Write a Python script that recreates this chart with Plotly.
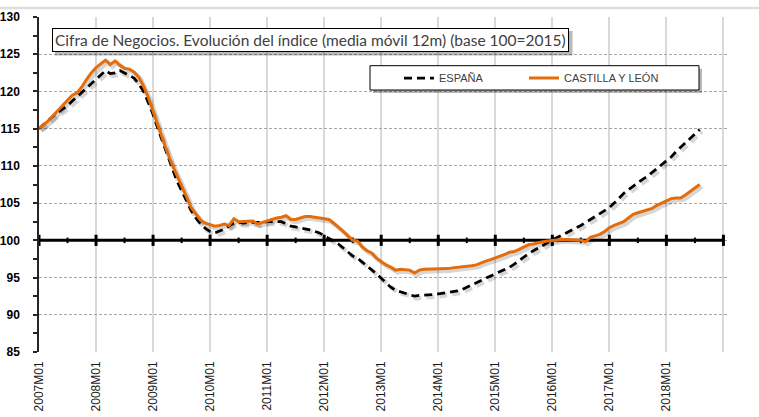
import plotly.graph_objects as go

# ---- categories (monthly, 2007M01 .. 2019M01 on the axis) ----
months = [f"{y}M{m:02d}" for y in range(2007, 2020) for m in range(1, 13)][:145]

# ---- series values (12-month moving average index, base 100 = 2015) ----
espana = [
    115.0, 115.6, 116.2, 116.7, 117.2, 117.6, 118.1, 118.7, 119.3, 119.9, 120.5, 121.1,
    121.7, 122.3, 122.8, 122.4, 122.5, 122.8, 122.5, 122.2, 121.8, 121.0, 120.0, 118.5,
    116.9, 115.0, 113.2, 111.4, 109.6, 108.0, 106.7, 105.3, 104.0, 103.0, 102.2, 101.6,
    101.2, 101.0, 101.2, 101.5, 101.9, 102.3, 102.4, 102.3, 102.4, 102.4, 102.3, 102.4,
    102.5, 102.5, 102.6, 102.5, 102.2, 101.9, 101.8, 101.7, 101.5, 101.4, 101.2, 101.0,
    100.6, 100.3, 99.9, 99.5, 99.0, 98.4, 97.9, 97.6, 97.1, 96.6, 96.0, 95.5,
    94.9, 94.3, 93.7, 93.3, 93.1, 93.0, 92.8, 92.5, 92.6, 92.6, 92.7, 92.7,
    92.8, 92.9, 92.9, 93.0, 93.2, 93.4, 93.7, 94.0, 94.3, 94.6, 94.9, 95.2,
    95.4, 95.7, 96.0, 96.4, 96.8, 97.3, 97.8, 98.2, 98.6, 98.9, 99.3, 99.7,
    100.1, 100.4, 100.7, 101.0, 101.3, 101.7, 102.0, 102.4, 102.8, 103.2, 103.5, 103.9,
    104.4, 105.0, 105.7, 106.3, 106.8, 107.3, 107.7, 108.2, 108.6, 109.1, 109.6, 110.1,
    110.6, 111.2, 111.9, 112.5, 113.1, 113.7, 114.3, 114.9,
]
castilla_leon = [
    115.1, 115.5, 116.1, 116.8, 117.5, 118.1, 118.9, 119.5, 119.8, 120.6, 121.6, 122.5,
    123.2, 123.7, 124.2, 123.6, 124.1, 123.5, 123.1, 123.0, 122.6, 121.9, 120.7, 119.2,
    117.3, 115.3, 113.5, 111.8, 110.2, 108.8, 107.5, 105.9, 104.4, 103.5, 102.7, 102.3,
    102.1, 101.9, 102.0, 102.2, 102.0, 102.9, 102.5, 102.5, 102.6, 102.6, 102.2, 102.4,
    102.7, 102.8, 103.0, 103.1, 103.3, 102.8, 102.8, 103.0, 103.2, 103.2, 103.1, 103.0,
    102.8, 102.8, 102.3, 101.8, 101.2, 100.6, 100.0, 99.9, 99.1, 98.6, 98.3, 97.6,
    97.1, 96.7, 96.4, 96.0, 96.1, 96.1, 96.0, 95.6, 96.0, 96.1, 96.1, 96.1,
    96.1, 96.2, 96.2, 96.3, 96.4, 96.5, 96.6, 96.6, 96.7, 97.0, 97.2, 97.4,
    97.6, 97.9, 98.1, 98.4, 98.5, 98.8, 99.1, 99.4, 99.5, 99.7, 99.8, 99.9,
    100.0, 100.1, 100.1, 100.1, 100.1, 100.0, 100.0, 99.8, 100.4, 100.6, 100.8, 101.2,
    101.7, 102.0, 102.2, 102.5, 103.0, 103.5, 103.7, 103.9, 104.1, 104.3, 104.7, 105.0,
    105.3, 105.6, 105.7, 105.7, 106.1, 106.6, 107.1, 107.5,
]
base_value = 100
tick_labels = months[0:145:12]
tick_text = [m if m != "2019M01" else "" for m in tick_labels]
major_marks = months[0:145:12]
minor_marks = months[6:145:12]
axis_span = [months[0], months[-1]]

ORANGE = "#E46C0A"
DASH = "8px,5px"

fig = go.Figure()

# soft drop shadows (same data on an offset, invisible axis pair)
fig.add_trace(go.Scatter(x=months[:len(espana)], y=espana, mode="lines",
                         line=dict(color="rgba(0,0,0,0.16)", width=4.5, dash=DASH),
                         showlegend=False, hoverinfo="skip", xaxis="x", yaxis="y"))
fig.add_trace(go.Scatter(x=months[:len(castilla_leon)], y=castilla_leon, mode="lines",
                         line=dict(color="rgba(0,0,0,0.16)", width=4.5),
                         showlegend=False, hoverinfo="skip", xaxis="x", yaxis="y"))

# horizontal category axis crossing at 100
fig.add_trace(go.Scatter(x=axis_span, y=[base_value] * len(axis_span), mode="lines",
                         line=dict(color="black", width=3), showlegend=False,
                         hoverinfo="skip", cliponaxis=False, xaxis="x2", yaxis="y2"))
fig.add_trace(go.Scatter(x=major_marks, y=[base_value] * len(major_marks), mode="markers",
                         marker=dict(symbol="line-ns", size=8, line=dict(width=3, color="black")),
                         showlegend=False, hoverinfo="skip", cliponaxis=False,
                         xaxis="x2", yaxis="y2"))
fig.add_trace(go.Scatter(x=minor_marks, y=[base_value] * len(minor_marks), mode="markers",
                         marker=dict(symbol="line-ns", size=4, line=dict(width=2, color="black")),
                         showlegend=False, hoverinfo="skip", cliponaxis=False,
                         xaxis="x2", yaxis="y2"))

# main series
fig.add_trace(go.Scatter(x=months[:len(espana)], y=espana, mode="lines", name="ESPAÑA",
                         line=dict(color="black", width=2.75, dash=DASH),
                         xaxis="x2", yaxis="y2", legend="legend"))
fig.add_trace(go.Scatter(x=months[:len(castilla_leon)], y=castilla_leon, mode="lines",
                         name="CASTILLA Y LEÓN", line=dict(color=ORANGE, width=3),
                         xaxis="x2", yaxis="y2", legend="legend2"))

L, R, T, B = 39, 32, 17, 65
W, H = 759, 417
pw, ph = W - L - R, H - T - B
xr = [0, 144.75]
yr = [85, 130]
sx = 2.2 * (xr[1] - xr[0]) / pw
sy = 2.2 * (yr[1] - yr[0]) / ph

def px_x(p):
    return (p - L) / pw

def px_y(p):
    return (H - B - p) / ph

legend_font = dict(family="Liberation Sans, Arial, sans-serif", size=11, color="#404040")
legend_common = dict(orientation="h", xanchor="left", yanchor="middle", y=px_y(78),
                     bgcolor="rgba(0,0,0,0)", borderwidth=0, font=legend_font)

fig.update_layout(
    width=W, height=H,
    margin=dict(l=L, r=R, t=T, b=B),
    paper_bgcolor="white", plot_bgcolor="white",
    font=dict(family="Liberation Sans, Arial, sans-serif", color="#262626"),
    showlegend=True,
    legend=dict(x=px_x(399), **legend_common),
    legend2=dict(x=px_x(524), **legend_common),
    xaxis=dict(type="category", categoryorder="array", categoryarray=months,
               range=[xr[0] - sx, xr[1] - sx], visible=False, showgrid=False),
    yaxis=dict(range=[yr[0] + sy, yr[1] + sy], visible=False, showgrid=False),
    xaxis2=dict(type="category", categoryorder="array", categoryarray=months,
                overlaying="x", anchor="y2", range=xr,
                tickmode="array", tickvals=tick_labels, ticktext=tick_text,
                tickangle=-90, ticks="", ticklabelstandoff=6,
                tickfont=dict(family="Liberation Sans, Arial, sans-serif", size=12, color="#1a1a1a"),
                showgrid=True, gridcolor="#d9d9d9", gridwidth=1.5,
                showline=False, zeroline=False, automargin=False),
    yaxis2=dict(overlaying="y", anchor="x2", range=yr, tickmode="linear", tick0=85, dtick=5,
                showgrid=True, gridcolor="#a6a6a6", gridwidth=1, griddash="3px,2px",
                showline=True, linecolor="#262626", linewidth=1.5,
                ticks="outside", ticklen=4, tickcolor="#262626", tickwidth=1.5,
                minor=dict(dtick=2.5, tick0=85, ticks="outside", ticklen=4,
                           tickcolor="#262626", showgrid=False),
                ticklabelstandoff=11,
                tickfont=dict(family="Liberation Sans, Arial, sans-serif", size=12,
                              color="black", weight="bold"),
                zeroline=False, automargin=False),
    shapes=[
        # light top border of the chart area
        dict(type="line", xref="paper", yref="paper", x0=px_x(0), x1=px_x(W),
             y0=px_y(8), y1=px_y(8), line=dict(color="#dedede", width=2.5)),
        # title box shadow
        dict(type="rect", xref="paper", yref="paper", x0=px_x(55), x1=px_x(572.5),
             y0=px_y(55.5), y1=px_y(31), fillcolor="rgba(0,0,0,0.28)", line=dict(width=0),
             layer="above"),
        # legend box shadow + box
        dict(type="rect", xref="paper", yref="paper", x0=px_x(373), x1=px_x(702),
             y0=px_y(93), y1=px_y(68.7), fillcolor="rgba(0,0,0,0.28)", line=dict(width=0),
             layer="above"),
        dict(type="rect", xref="paper", yref="paper", x0=px_x(370), x1=px_x(699),
             y0=px_y(90), y1=px_y(65.7), fillcolor="white", line=dict(color="black", width=1),
             layer="above"),
    ],
)

title_text = "Cifra de Negocios. Evolución del índice (media móvil 12m) (base 100=2015)"
title_font = dict(family="Lato, Liberation Sans, sans-serif", size=15.5, color="#404040")
fig.add_annotation(text=title_text, xref="paper", yref="paper", x=px_x(51.7), y=px_y(28.3),
                   xanchor="left", yanchor="top", showarrow=False, font=title_font,
                   bgcolor="white", bordercolor="black", borderwidth=1, borderpad=2)

fig.write_html("out.html", config={"displayModeBar": False},
               post_script="document.body.style.margin='0';")
